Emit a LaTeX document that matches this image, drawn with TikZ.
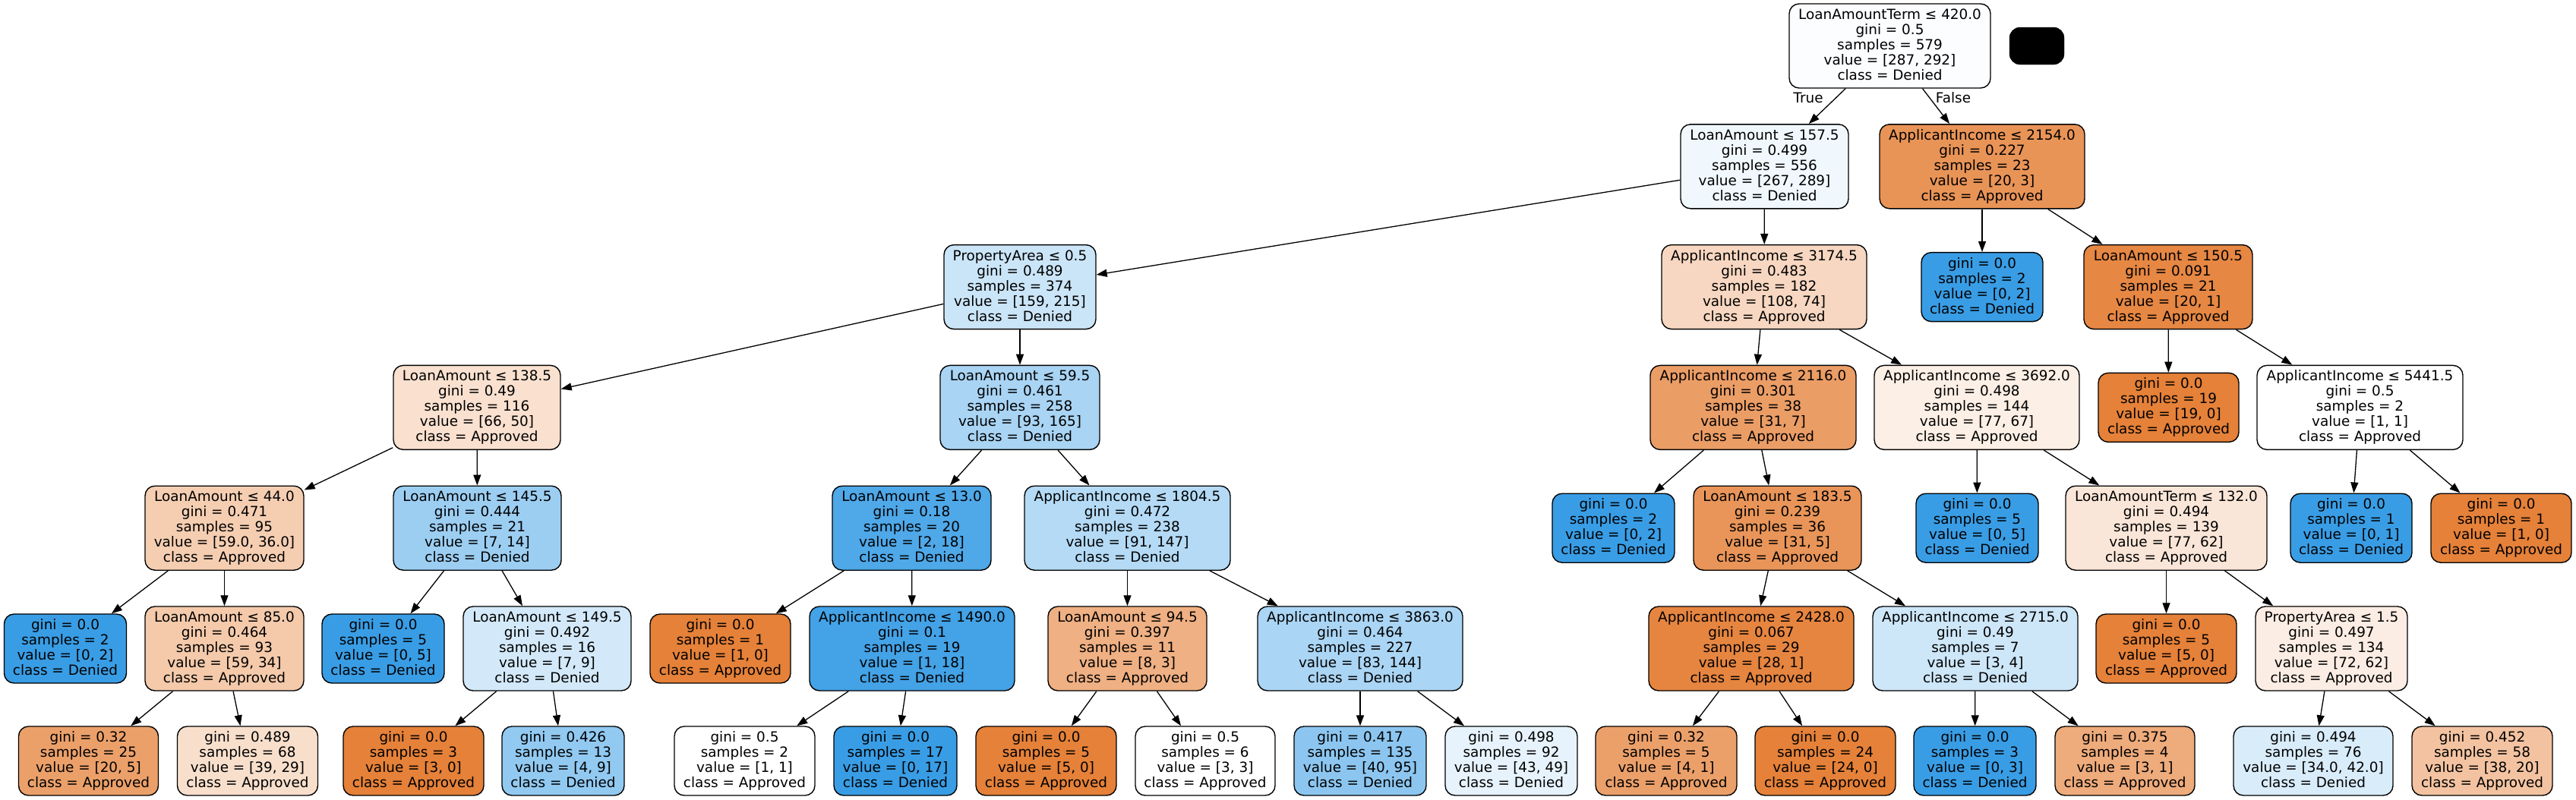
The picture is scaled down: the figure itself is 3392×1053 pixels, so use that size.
\documentclass[tikz,border=0pt]{standalone}
\usepackage{fontspec}
\setmainfont{DejaVu Sans}
\usetikzlibrary{arrows.meta}
\newcommand\nf{\fontsize{18.4}{20}\selectfont}
\newcommand\nstr{\rule[-5pt]{0pt}{20pt}}
\newcommand\iN[5]{#1\nstr\\#2\nstr\\#3\nstr\\#4\nstr\\#5\nstr}
\newcommand\lN[4]{#1\nstr\\#2\nstr\\#3\nstr\\#4\nstr}
\definecolor{cOr}{HTML}{E58139}
\definecolor{cBl}{HTML}{399DE5}
\begin{document}
\begin{tikzpicture}[x=1pt,y=-1pt,
  tn/.style={draw=black, line width=1.4pt, rounded corners=13pt, align=center,
    inner sep=0pt, minimum height=111pt, font=\nf},
  leaf/.style={tn, minimum height=91pt},
  edge/.style={line width=1.3pt, -{Triangle[length=14pt,width=10pt]}},
  elbl/.style={font=\nf, inner sep=0pt, anchor=base}]
\useasboundingbox (0,0) rectangle (3392,1053);
% row 0
\node[tn, fill={rgb,255:red,252;green,253;blue,255}, minimum width=265pt] (n0) at (2488.5,60.5)
  {\iN{LoanAmountTerm ≤ 420.0}{gini = 0.5}{samples = 579}{value = [287, 292]}{class = Denied}};
\node[draw=black, fill=black, rounded corners=14pt, minimum width=72pt, minimum height=49pt, inner sep=0pt] (blk) at (2682,60.5) {};
% row 1
\node[tn, fill={rgb,255:red,240;green,248;blue,253}, minimum width=221pt] (n1) at (2323.5,219.3)
  {\iN{LoanAmount ≤ 157.5}{gini = 0.499}{samples = 556}{value = [267, 289]}{class = Denied}};
\node[tn, fill={rgb,255:red,233;green,148;blue,87}, minimum width=270pt] (n2) at (2610,219.3)
  {\iN{ApplicantIncome ≤ 2154.0}{gini = 0.227}{samples = 23}{value = [20, 3]}{class = Approved}};
% row 2
\node[tn, fill={rgb,255:red,203;green,229;blue,248}, minimum width=200pt] (n3) at (1343,378.1)
  {\iN{PropertyArea ≤ 0.5}{gini = 0.489}{samples = 374}{value = [159, 215]}{class = Denied}};
\node[tn, fill={rgb,255:red,247;green,215;blue,193}, minimum width=270pt] (n4) at (2323,378.1)
  {\iN{ApplicantIncome ≤ 3174.5}{gini = 0.483}{samples = 182}{value = [108, 74]}{class = Approved}};
\node[leaf, fill=cBl, minimum width=160pt] (n5) at (2610,378.1)
  {\lN{gini = 0.0}{samples = 2}{value = [0, 2]}{class = Denied}};
\node[tn, fill={rgb,255:red,230;green,135;blue,67}, minimum width=222pt] (n6) at (2855,378.1)
  {\iN{LoanAmount ≤ 150.5}{gini = 0.091}{samples = 21}{value = [20, 1]}{class = Approved}};
% row 3
\node[tn, fill={rgb,255:red,249;green,224;blue,207}, minimum width=220pt] (n7) at (628,536.9)
  {\iN{LoanAmount ≤ 138.5}{gini = 0.49}{samples = 116}{value = [66, 50]}{class = Approved}};
\node[tn, fill={rgb,255:red,169;green,212;blue,244}, minimum width=210pt] (n8) at (1343,536.9)
  {\iN{LoanAmount ≤ 59.5}{gini = 0.461}{samples = 258}{value = [93, 165]}{class = Denied}};
\node[tn, fill={rgb,255:red,235;green,157;blue,102}, minimum width=271pt] (n9) at (2308.5,536.9)
  {\iN{ApplicantIncome ≤ 2116.0}{gini = 0.301}{samples = 38}{value = [31, 7]}{class = Approved}};
\node[tn, fill={rgb,255:red,252;green,239;blue,229}, minimum width=270pt] (n10) at (2603,536.9)
  {\iN{ApplicantIncome ≤ 3692.0}{gini = 0.498}{samples = 144}{value = [77, 67]}{class = Approved}};
\node[leaf, fill=cOr, minimum width=185pt] (n11) at (2855.5,536.9)
  {\lN{gini = 0.0}{samples = 19}{value = [19, 0]}{class = Approved}};
\node[tn, fill=white, minimum width=271pt] (n12) at (3107.5,536.9)
  {\iN{ApplicantIncome ≤ 5441.5}{gini = 0.5}{samples = 2}{value = [1, 1]}{class = Approved}};
% row 4
\node[tn, fill={rgb,255:red,245;green,206;blue,178}, minimum width=209pt] (n13) at (295.5,695.7)
  {\iN{LoanAmount ≤ 44.0}{gini = 0.471}{samples = 95}{value = [59.0, 36.0]}{class = Approved}};
\node[tn, fill={rgb,255:red,156;green,206;blue,242}, minimum width=221pt] (n14) at (628.5,695.7)
  {\iN{LoanAmount ≤ 145.5}{gini = 0.444}{samples = 21}{value = [7, 14]}{class = Denied}};
\node[tn, fill={rgb,255:red,79;green,168;blue,232}, minimum width=209pt] (n15) at (1200.5,695.7)
  {\iN{LoanAmount ≤ 13.0}{gini = 0.18}{samples = 20}{value = [2, 18]}{class = Denied}};
\node[tn, fill={rgb,255:red,180;green,218;blue,245}, minimum width=271pt] (n16) at (1484.5,695.7)
  {\iN{ApplicantIncome ≤ 1804.5}{gini = 0.472}{samples = 238}{value = [91, 147]}{class = Denied}};
\node[leaf, fill=cBl, minimum width=161pt] (n17) at (2124.5,695.7)
  {\lN{gini = 0.0}{samples = 2}{value = [0, 2]}{class = Denied}};
\node[tn, fill={rgb,255:red,233;green,149;blue,89}, minimum width=221pt] (n18) at (2340.5,695.7)
  {\iN{LoanAmount ≤ 183.5}{gini = 0.239}{samples = 36}{value = [31, 5]}{class = Approved}};
\node[leaf, fill=cBl, minimum width=161pt] (n19) at (2603.5,695.7)
  {\lN{gini = 0.0}{samples = 5}{value = [0, 5]}{class = Denied}};
\node[tn, fill={rgb,255:red,250;green,230;blue,216}, minimum width=265pt] (n20) at (2852.5,695.7)
  {\iN{LoanAmountTerm ≤ 132.0}{gini = 0.494}{samples = 139}{value = [77, 62]}{class = Approved}};
\node[leaf, fill=cBl, minimum width=160pt] (n21) at (3096,695.7)
  {\lN{gini = 0.0}{samples = 1}{value = [0, 1]}{class = Denied}};
\node[leaf, fill=cOr, minimum width=185pt] (n22) at (3293.5,695.7)
  {\lN{gini = 0.0}{samples = 1}{value = [1, 0]}{class = Approved}};
% row 5
\node[leaf, fill=cBl, minimum width=161pt] (n23) at (86,854.5)
  {\lN{gini = 0.0}{samples = 2}{value = [0, 2]}{class = Denied}};
\node[tn, fill={rgb,255:red,244;green,202;blue,171}, minimum width=209pt] (n24) at (295.5,854.5)
  {\iN{LoanAmount ≤ 85.0}{gini = 0.464}{samples = 93}{value = [59, 34]}{class = Approved}};
\node[leaf, fill=cBl, minimum width=161pt] (n25) at (504.5,854.5)
  {\lN{gini = 0.0}{samples = 5}{value = [0, 5]}{class = Denied}};
\node[tn, fill={rgb,255:red,211;green,233;blue,249}, minimum width=221pt] (n26) at (720.5,854.5)
  {\iN{LoanAmount ≤ 149.5}{gini = 0.492}{samples = 16}{value = [7, 9]}{class = Denied}};
\node[leaf, fill=cOr, minimum width=185pt] (n27) at (948.5,854.5)
  {\lN{gini = 0.0}{samples = 1}{value = [1, 0]}{class = Approved}};
\node[tn, fill={rgb,255:red,68;green,162;blue,230}, minimum width=270pt] (n28) at (1201,854.5)
  {\iN{ApplicantIncome ≤ 1490.0}{gini = 0.1}{samples = 19}{value = [1, 18]}{class = Denied}};
\node[tn, fill={rgb,255:red,239;green,176;blue,131}, minimum width=209pt] (n29) at (1484.5,854.5)
  {\iN{LoanAmount ≤ 94.5}{gini = 0.397}{samples = 11}{value = [8, 3]}{class = Approved}};
\node[tn, fill={rgb,255:red,171;green,213;blue,244}, minimum width=270pt] (n30) at (1791,854.5)
  {\iN{ApplicantIncome ≤ 3863.0}{gini = 0.464}{samples = 227}{value = [83, 144]}{class = Denied}};
\node[tn, fill={rgb,255:red,230;green,133;blue,64}, minimum width=270pt] (n31) at (2306,854.5)
  {\iN{ApplicantIncome ≤ 2428.0}{gini = 0.067}{samples = 29}{value = [28, 1]}{class = Approved}};
\node[tn, fill={rgb,255:red,205;green,230;blue,248}, minimum width=270pt] (n32) at (2601,854.5)
  {\iN{ApplicantIncome ≤ 2715.0}{gini = 0.49}{samples = 7}{value = [3, 4]}{class = Denied}};
\node[leaf, fill=cOr, minimum width=185pt] (n33) at (2852.5,854.5)
  {\lN{gini = 0.0}{samples = 5}{value = [5, 0]}{class = Approved}};
\node[tn, fill={rgb,255:red,251;green,237;blue,227}, minimum width=200pt] (n34) at (3070,854.5)
  {\iN{PropertyArea ≤ 1.5}{gini = 0.497}{samples = 134}{value = [72, 62]}{class = Approved}};
% row 6
\node[leaf, fill={rgb,255:red,235;green,160;blue,106}, minimum width=184pt] (n35) at (116.5,1002.5)
  {\lN{gini = 0.32}{samples = 25}{value = [20, 5]}{class = Approved}};
\node[leaf, fill={rgb,255:red,248;green,223;blue,204}, minimum width=185pt] (n36) at (326,1002.5)
  {\lN{gini = 0.489}{samples = 68}{value = [39, 29]}{class = Approved}};
\node[leaf, fill=cOr, minimum width=185pt] (n37) at (544.5,1002.5)
  {\lN{gini = 0.0}{samples = 3}{value = [3, 0]}{class = Approved}};
\node[leaf, fill={rgb,255:red,145;green,201;blue,241}, minimum width=161pt] (n38) at (741.5,1002.5)
  {\lN{gini = 0.426}{samples = 13}{value = [4, 9]}{class = Denied}};
\node[leaf, fill=white, minimum width=185pt] (n39) at (980.5,1002.5)
  {\lN{gini = 0.5}{samples = 2}{value = [1, 1]}{class = Approved}};
\node[leaf, fill=cBl, minimum width=162pt] (n40) at (1179,1002.5)
  {\lN{gini = 0.0}{samples = 17}{value = [0, 17]}{class = Denied}};
\node[leaf, fill=cOr, minimum width=185pt] (n41) at (1377.5,1002.5)
  {\lN{gini = 0.0}{samples = 5}{value = [5, 0]}{class = Approved}};
\node[leaf, fill=white, minimum width=184pt] (n42) at (1587,1002.5)
  {\lN{gini = 0.5}{samples = 6}{value = [3, 3]}{class = Approved}};
\node[leaf, fill={rgb,255:red,140;green,198;blue,240}, minimum width=174pt] (n43) at (1791,1002.5)
  {\lN{gini = 0.417}{samples = 135}{value = [40, 95]}{class = Denied}};
\node[leaf, fill={rgb,255:red,231;green,243;blue,252}, minimum width=174pt] (n44) at (1990,1002.5)
  {\lN{gini = 0.498}{samples = 92}{value = [43, 49]}{class = Denied}};
\node[leaf, fill={rgb,255:red,235;green,160;blue,106}, minimum width=186pt] (n45) at (2194,1002.5)
  {\lN{gini = 0.32}{samples = 5}{value = [4, 1]}{class = Approved}};
\node[leaf, fill=cOr, minimum width=185pt] (n46) at (2403.5,1002.5)
  {\lN{gini = 0.0}{samples = 24}{value = [24, 0]}{class = Approved}};
\node[leaf, fill=cBl, minimum width=161pt] (n47) at (2600.5,1002.5)
  {\lN{gini = 0.0}{samples = 3}{value = [0, 3]}{class = Denied}};
\node[leaf, fill={rgb,255:red,238;green,171;blue,123}, minimum width=184pt] (n48) at (2798,1002.5)
  {\lN{gini = 0.375}{samples = 4}{value = [3, 1]}{class = Approved}};
\node[leaf, fill={rgb,255:red,217;green,236;blue,250}, minimum width=210pt] (n49) at (3046,1002.5)
  {\lN{gini = 0.494}{samples = 76}{value = [34.0, 42.0]}{class = Denied}};
\node[leaf, fill={rgb,255:red,243;green,195;blue,161}, minimum width=185pt] (n50) at (3268.5,1002.5)
  {\lN{gini = 0.452}{samples = 58}{value = [38, 20]}{class = Approved}};
% edge labels
\node[elbl] (lblT) at (2381,135.7) {True};
\node[elbl] (lblF) at (2572,135.7) {False};
% edges
\foreach \p/\c in {n0/n1,n0/n2,n1/n3,n1/n4,n2/n5,n2/n6,n3/n7,n3/n8,n4/n9,n4/n10,
  n6/n11,n6/n12,n7/n13,n7/n14,n8/n15,n8/n16,n9/n17,n9/n18,n10/n19,n10/n20,
  n12/n21,n12/n22,n13/n23,n13/n24,n14/n25,n14/n26,n15/n27,n15/n28,n16/n29,n16/n30,
  n18/n31,n18/n32,n20/n33,n20/n34,n24/n35,n24/n36,n26/n37,n26/n38,n28/n39,n28/n40,
  n29/n41,n29/n42,n30/n43,n30/n44,n31/n45,n31/n46,n32/n47,n32/n48,n34/n49,n34/n50}
  \draw[edge] (\p) -- (\c);
\end{tikzpicture}
\end{document}
